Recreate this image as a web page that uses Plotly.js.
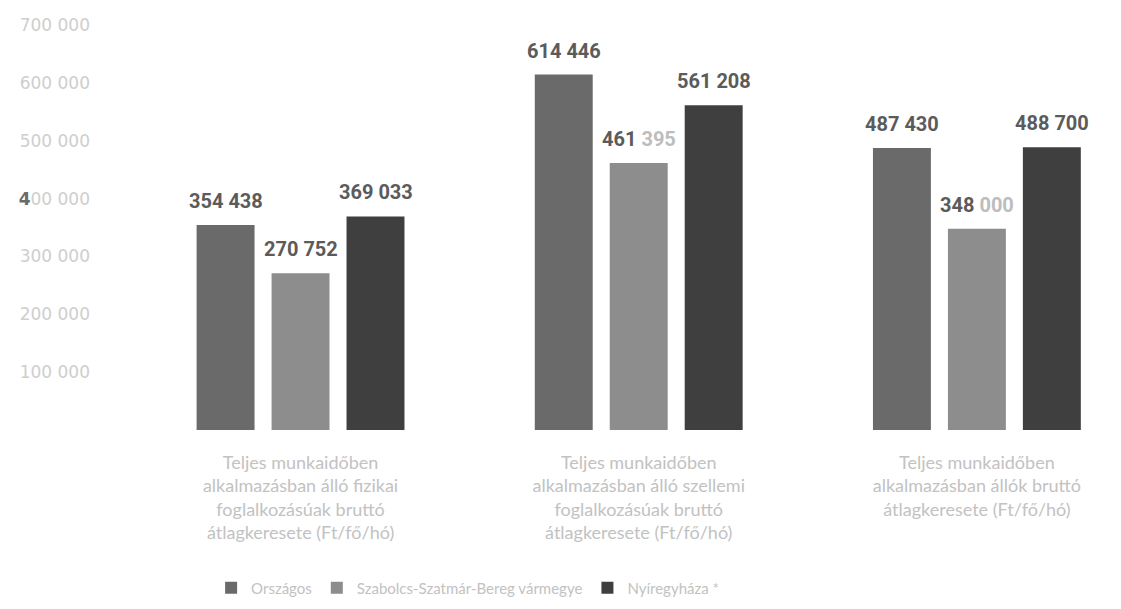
<!DOCTYPE html>
<html>
<head>
<meta charset="utf-8">
<script src="https://cdn.plot.ly/plotly-3.0.1.min.js"></script>
<style>html,body{margin:0;padding:0;background:#fff;}#chart{width:1121px;height:609px;}</style>
</head>
<body>
<div id="chart"></div>
<script>
// ---- data ----
var categories = [
  "Teljes munkaidőben<br>alkalmazásban álló fizikai<br>foglalkozásúak bruttó<br>átlagkeresete (Ft/fő/hó)",
  "Teljes munkaidőben<br>alkalmazásban álló szellemi<br>foglalkozásúak bruttó<br>átlagkeresete (Ft/fő/hó)",
  "Teljes munkaidőben<br>alkalmazásban állók bruttó<br>átlagkeresete (Ft/fő/hó)"
];
var seriesNames = ["Országos", "Szabolcs-Szatmár-Bereg vármegye", "Nyíregyháza *"];
var orszagos = [354438, 614446, 487430];
var szabolcs = [270752, 461395, 348000];
var nyiregyhaza = [369033, 561208, 488700];
var tickValues = [100000, 200000, 300000, 400000, 500000, 600000, 700000];
var tickLabels = ["100 000", "200 000", "300 000", "<span style='color:#6a6a6a;font-weight:bold'>4</span>00 000", "500 000", "600 000", "700 000"];

// ---- styles ----
var colors = ["#6a6a6a", "#8d8d8d", "#3f3f3f"];
var values = [orszagos, szabolcs, nyiregyhaza];
var labelColor = "#5b5b5b";
var fadedColor = "#bdbdbd";
var bargap = 0.335, bargroupgap = 0.227;
var margin = {l: 100, r: 20, t: 25, b: 179, autoexpand: false};
var xRange = [-0.593, 2.367];

function fmt(v) {
  return String(v).replace(/\B(?=(\d{3})+(?!\d))/g, " ");
}
// labels where the trailing group is printed faded in the original
var fadedTail = {"1-1": true, "1-2": true};

var traces = values.map(function (vals, j) {
  return {
    type: "bar",
    name: seriesNames[j],
    x: categories,
    y: vals,
    marker: {color: colors[j]},
    hoverinfo: "y"
  };
});

var plotW = 1121 - margin.l - margin.r;
var pxPerCat = plotW / (xRange[1] - xRange[0]);
var slotPx = (1 - bargap) / 3 * pxPerCat;

var annotations = [];
values.forEach(function (vals, j) {
  vals.forEach(function (v, i) {
    var s = fmt(v);
    var txt = "<b>" + s + "</b>";
    if (fadedTail[j + "-" + i]) {
      var parts = s.split(" ");
      txt = "<b>" + parts[0] + "</b> <span style='color:" + fadedColor + "'><b>" + parts[1] + "</b></span>";
    }
    annotations.push({
      x: categories[i], y: v, xref: "x", yref: "y",
      xshift: (j - 1) * slotPx, yshift: 10,
      yanchor: "bottom", xanchor: "center",
      text: txt, showarrow: false,
      font: {family: "Roboto, 'Liberation Sans', sans-serif", size: 20, color: labelColor}
    });
  });
});

var layout = {
  width: 1121, height: 609,
  margin: margin,
  paper_bgcolor: "#fff", plot_bgcolor: "#fff",
  barmode: "group", bargap: bargap, bargroupgap: bargroupgap,
  showlegend: true,
  legend: {
    orientation: "h", x: 0.111, xanchor: "left", y: -0.39, yanchor: "middle",
    font: {family: "Lato, Roboto, sans-serif", size: 15, color: "#c2c2c2"},
    itemwidth: 30, traceorder: "normal"
  },
  xaxis: {
    type: "category", range: xRange, automargin: false,
    showline: false, showgrid: false, zeroline: false, ticks: "",
    ticklabelstandoff: 20,
    tickfont: {family: "Lato, Roboto, sans-serif", size: 18, color: "#c2c2c2"}
  },
  yaxis: {
    range: [0, 700000], automargin: false,
    tickvals: tickValues, ticktext: tickLabels,
    showline: false, showgrid: false, zeroline: false, ticks: "",
    ticklabelstandoff: 9,
    tickfont: {family: "'DejaVu Sans', sans-serif", size: 17, color: "#cecece"}
  },
  annotations: annotations,
  font: {family: "Roboto, sans-serif"}
};

Plotly.newPlot("chart", traces, layout, {displayModeBar: false, staticPlot: true});
</script>
</body>
</html>
